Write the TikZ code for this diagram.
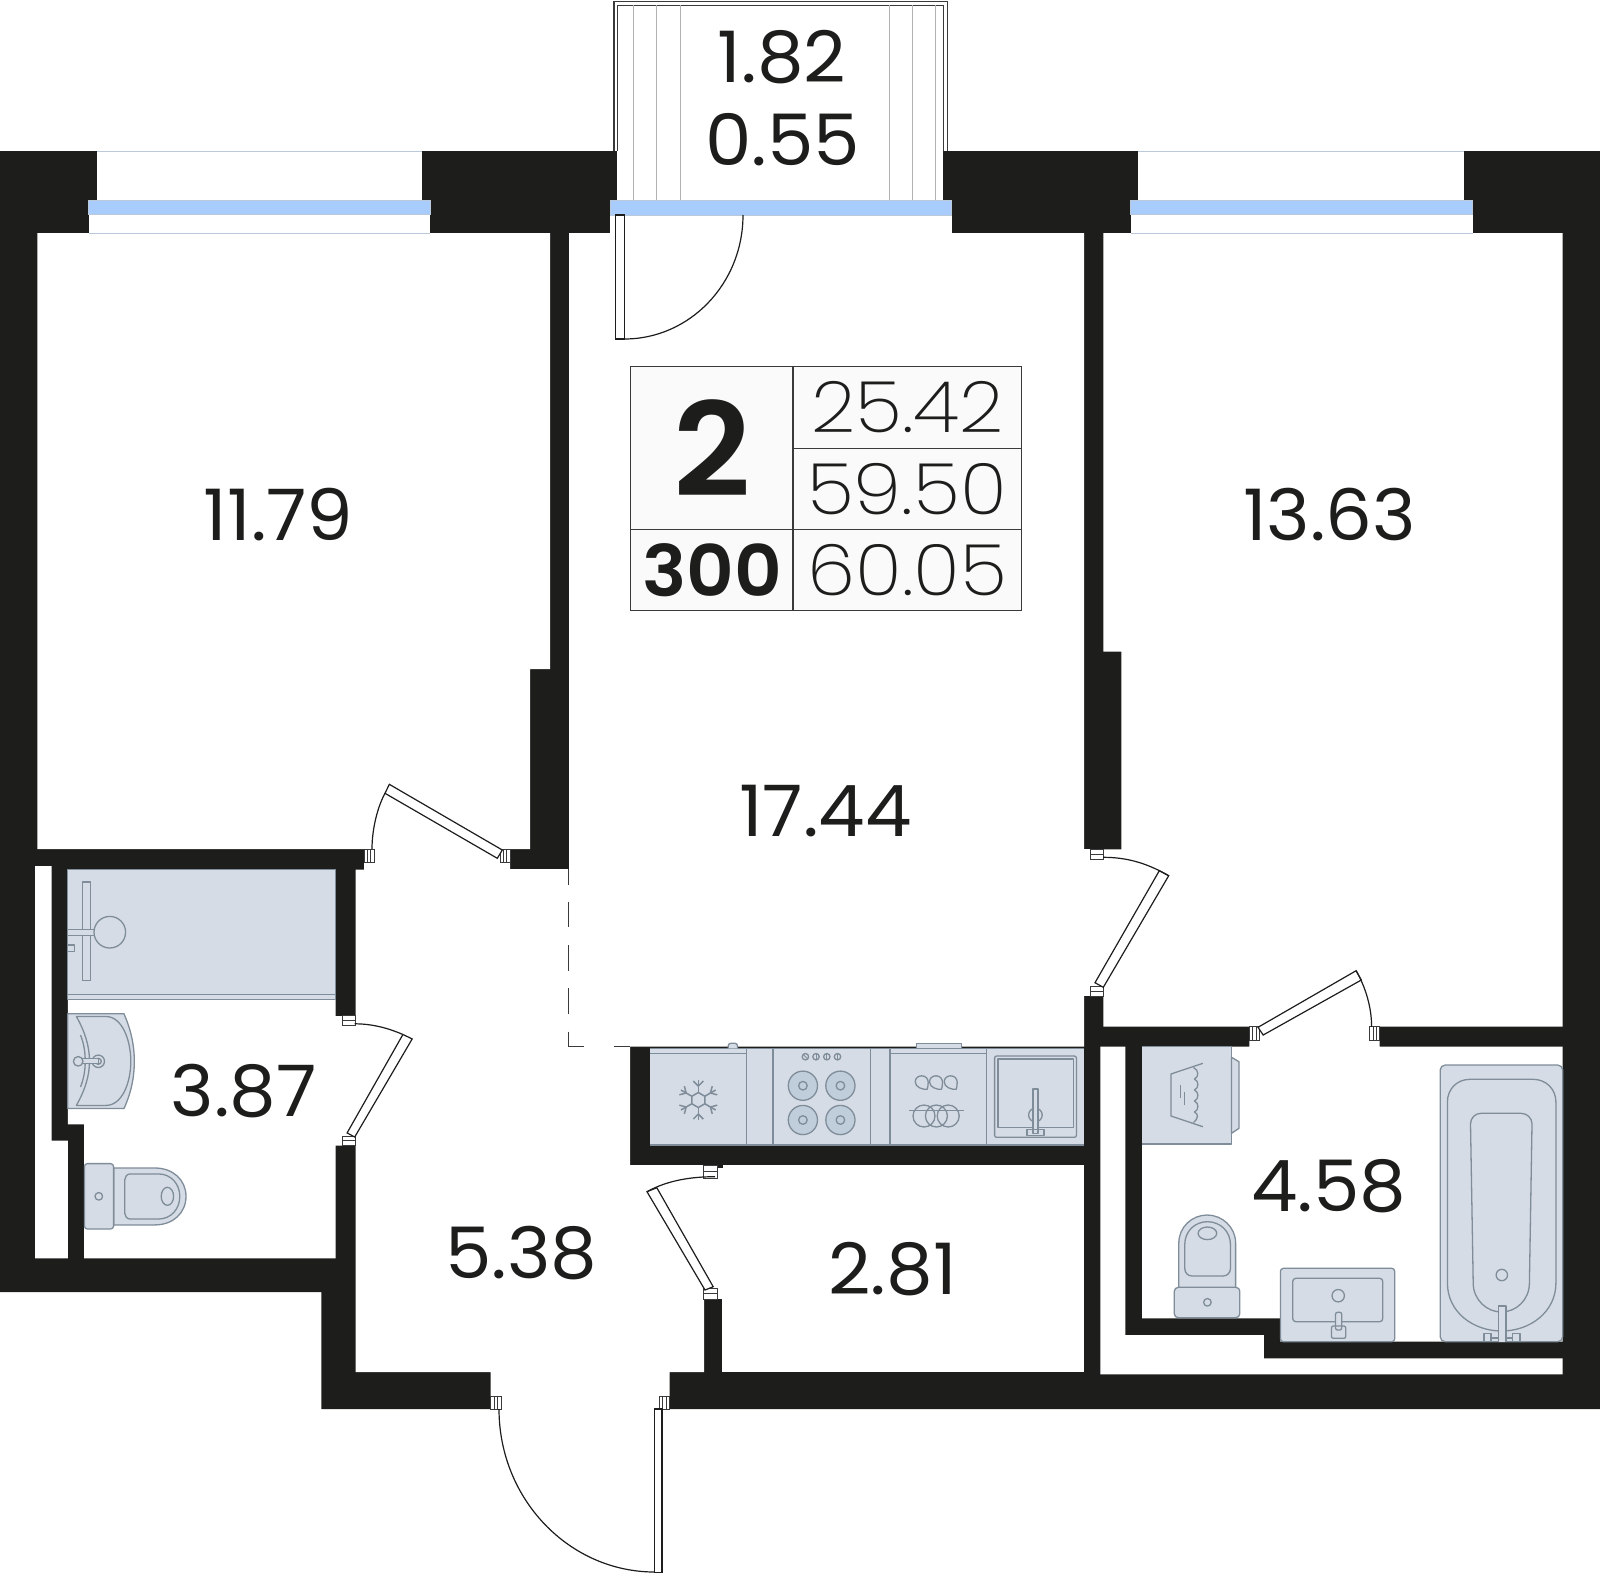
\documentclass[tikz,border=0pt]{standalone}
\usepackage{fontspec}
\setmainfont{Poppins}
\newfontfamily\pregular[FakeStretch=1.04]{Poppins}
\newfontfamily\plight[FakeStretch=1.09]{Poppins ExtraLight}
\newfontfamily\pbold[FakeStretch=1.04]{Poppins SemiBold}
\definecolor{wallc}{HTML}{1D1D1B}
\definecolor{fixf}{HTML}{D5DCE5}
\definecolor{fixs}{HTML}{7F8C99}
\definecolor{hobf}{HTML}{C0CEDC}
\definecolor{glassf}{HTML}{A8CDFD}
\definecolor{glasss}{HTML}{BAC8DA}
\definecolor{linec}{HTML}{3A3A3A}
\definecolor{tablef}{HTML}{FAFAFA}
\tikzset{
  wallfill/.style={fill=wallc,draw=none},
  roomfill/.style={fill=white,draw=none},
  fixture/.style={fill=fixf,draw=fixs,line width=1.3pt,line join=round},
  fixline/.style={draw=fixs,line width=1.3pt,line join=round},
  hatchline/.style={draw=black!30,line width=1pt},
  leaf/.style={fill=white,draw=wallc,line width=1.2pt},
  swing/.style={draw=wallc,line width=1.2pt},
  hingebox/.style={fill=white,draw=linec,line width=1pt},
  glass/.style={fill=glassf,draw=glasss,line width=.8pt},
  sill/.style={draw=glasss,line width=.8pt},
  tabline/.style={draw=linec,line width=1.2pt},
  areatxt/.style={text=wallc,font=\pregular\fontsize{71}{71}\selectfont,inner sep=0pt,anchor=center},
  lighttxt/.style={text=wallc,font=\plight\fontsize{71}{71}\selectfont,inner sep=0pt,anchor=center},
}
\newcommand{\hingeV}[4]{\draw[hingebox] (#1,#2) rectangle (#3,#4);
  \draw[linec,line width=.8pt] ({#1+(#3-#1)/3},#2) -- ({#1+(#3-#1)/3},#4);
  \draw[linec,line width=.8pt] ({#1+2*(#3-#1)/3},#2) -- ({#1+2*(#3-#1)/3},#4);}
\newcommand{\hingeH}[4]{\draw[hingebox] (#1,#2) rectangle (#3,#4);
  \draw[linec,line width=.8pt] (#1,{(#2+#4)/2}) -- (#3,{(#2+#4)/2});}
\begin{document}
\begin{tikzpicture}[x=1pt,y=-1pt]
\useasboundingbox (0,0) rectangle (1600,1574);
% walls silhouette
\fill[wallfill] (0,151) -- (1600,151) -- (1600,1409) -- (321.3,1409) -- (321.3,1292) -- (0,1292) -- cycle;
% rooms
\fill[roomfill] (37.4,233) -- (550,233) -- (550,669) -- (530,669) -- (530,849) -- (37.4,849) -- cycle;
\fill[roomfill] (569,233) -- (1084,233) -- (1084,1046.7) -- (630,1046.7) -- (630,1165) -- (704,1165) -- (704,1372) -- (669.7,1372) -- (669.7,1410.5) -- (490.7,1410.5) -- (490.7,1372) -- (355.7,1372) -- (355.7,1145.7) -- (335,1145.7) -- (335,1016) -- (355.7,1016) -- (355.7,869.5) -- (364,869.5) -- (364,849) -- (510,849) -- (510,869) -- (569,869) -- cycle;
\fill[roomfill] (67.8,869.5) -- (335.7,869.5) -- (335.7,1258.3) -- (84,1258.3) -- (84,1124.3) -- (67.8,1124.3) -- cycle;
\fill[roomfill] (35.1,866) -- (51.7,866) -- (51.7,1140.5) -- (67.8,1140.5) -- (67.8,1258.3) -- (35.1,1258.3) -- cycle;
\fill[roomfill] (1103.3,233) -- (1562.7,233) -- (1562.7,1026.7) -- (1103.3,1026.7) -- (1103.3,849.3) -- (1121.3,849.3) -- (1121.3,651.7) -- (1103.3,651.7) -- cycle;
\fill[roomfill] (1083,849.3) rectangle (1104,996);
\fill[roomfill] (722,1165) rectangle (1084,1372);
\fill[roomfill] (703.6,1168) rectangle (724,1299);
\fill[roomfill] (1142,1046.7) -- (1249.4,1046.7) -- (1249.4,1025.7) -- (1379.6,1025.7) -- (1379.6,1046.7) -- (1562.7,1046.7) -- (1562.7,1341.7) -- (1280.4,1341.7) -- (1280.4,1318.3) -- (1142,1318.3) -- cycle;
\fill[roomfill] (1100.3,1046.7) -- (1125.4,1046.7) -- (1125.4,1335) -- (1263.9,1335) -- (1263.9,1358.3) -- (1562.7,1358.3) -- (1562.7,1374.3) -- (1100.3,1374.3) -- cycle;
% windows
\fill[roomfill] (97,150) rectangle (422.3,201);
\fill[roomfill] (88.6,200) rectangle (430,234);
\draw[sill] (97,151) -- (422.3,151);
\draw[sill] (88.6,233) -- (430,233);
\draw[glass] (88.6,200) rectangle (430,214);
\fill[roomfill] (1137.8,150) rectangle (1464.3,201);
\fill[roomfill] (1130.6,200) rectangle (1472.5,234);
\draw[sill] (1137.8,151) -- (1464.3,151);
\draw[sill] (1130.6,233) -- (1472.5,233);
\draw[glass] (1130.6,200) rectangle (1472.5,214);
% balcony
\fill[roomfill] (617.3,150) rectangle (943.3,201);
\fill[roomfill] (610,200) rectangle (951.7,234);
\draw[linec,line width=1.2pt] (614,151) -- (614,1.5) -- (947.3,1.5) -- (947.3,151);
\draw[linec,line width=1pt] (617.7,151) -- (617.7,5) -- (943,5) -- (943,151);
\foreach \hx in {633.3,656.7,680,889,912.3,935.7} \draw[hatchline] (\hx,5) -- (\hx,200);
\draw[glass] (610,200) rectangle (951.7,215);
% balcony door
\draw[leaf] (615.7,215) rectangle (624.3,339);
\draw[swing] (743,215) .. controls (743,283.5) and (689.9,339) .. (624.3,339);
% dashed zone border
\draw[linec,line width=1pt] (568.7,869) -- (568.7,885);
\draw[linec,line width=1pt] (568.7,901.7) -- (568.7,927.3);
\draw[linec,line width=1pt] (568.7,945) -- (568.7,970.7);
\draw[linec,line width=1pt] (568.7,988.3) -- (568.7,1014);
\draw[linec,line width=1pt] (568.7,1031.7) -- (568.7,1046.7) -- (583.6,1046.7);
\draw[linec,line width=1pt] (614.3,1046.7) -- (630,1046.7);
% nub above closet door
\fill[wallfill] (703.6,1164) rectangle (723,1168);
% kitchen
\fill[fixf] (649.6,1048.3) rectangle (1084,1145);
\foreach \kx in {746.4,772.9,870.4,890,986.4} \draw[fixline] (\kx,1048.3) -- (\kx,1145);
\draw[fixline] (649.6,1048.3) -- (1084,1048.3);
\draw[fixline] (649.6,1145) -- (1084,1145);
\draw[fixline] (649.6,1053.3) -- (746.4,1053.3);
\draw[fixline] (890,1053.3) -- (986.4,1053.3);
\draw[fixture,rounded corners=2.5pt] (728.2,1048.3) -- (728.2,1043.3) -- (737.5,1043.3) -- (737.5,1048.3);
\draw[fixture] (916.8,1048.3) -- (916.8,1043.3) -- (961.4,1043.3) -- (961.4,1048.3);
% snowflake
\begin{scope}[shift={(698.3,1100)}]
\foreach \a in {0,60,120,180,240,300}{
  \begin{scope}[rotate=\a]
    \draw[fixline,line width=1.5pt] (0,-7.5) -- (0,-20);
    \draw[fixline,line width=1.5pt] (-5,-19) -- (0,-14) -- (5,-19);
    \draw[fixline,line width=1.5pt] (0,-7.5) -- (6.5,-3.75);
  \end{scope}}
\end{scope}
% hob
\foreach \kx/\ka in {805.4/45,816/0,826.8/0,837.5/0}{
  \draw[fixline] (\kx,1056.7) circle (3.2);
  \begin{scope}[shift={(\kx,1056.7)},rotate=\ka]
    \draw[fixs,line width=.8pt] (0,-2.8) -- (0,2.8);
  \end{scope}}
\foreach \kx in {802.9,840.4}\foreach \ky in {1085.7,1120}{
  \draw[fixs,fill=hobf,line width=1.3pt] (\kx,\ky) circle (14.6);
  \draw[fixline] (\kx,\ky) circle (4.3);}
% dishwasher
\foreach \dx in {921.7,936,950.7}{
  \begin{scope}[shift={(\dx,1082.3)}]
    \draw[fixline] (5.5,7) .. controls (1,7.5) and (-6.5,5) .. (-6.5,-0.5) .. controls (-6.5,-4.5) and (-3,-6.5) .. (0,-6.5) .. controls (4,-6.5) and (6.5,-3.5) .. (6.5,0) .. controls (6.5,3) and (6,5) .. (5.5,7) -- cycle;
  \end{scope}}
\foreach \dx in {924,936.4,948.2} \draw[fixline] (\dx,1116) circle (11);
\draw[fixline] (909,1110.7) -- (964,1110.7);
% sink
\draw[fixline,rounded corners=2pt] (994.6,1056) rectangle (1076.4,1137.3);
\draw[fixline] (997.9,1059) rectangle (1073.6,1127.3);
\draw[fixline] (1035.4,1115) circle (6.8);
\draw[fixture] (1032.9,1089) rectangle (1037.9,1133.3);
\draw[fixline] (1027.1,1129.3) rectangle (1043.9,1135.7);
% shower
\fill[fixf] (67.8,869.5) rectangle (335.7,999.3);
\draw[fixline] (67.8,869.5) -- (67.8,999.3) -- (335.7,999.3) -- (335.7,869.5) -- cycle;
\draw[fixline] (67.8,994.2) -- (335.7,994.2);
\draw[fixline] (82.6,881.9) rectangle (90.6,980.4);
\draw[fixture] (67.8,929.8) rectangle (96,935.6);
\draw[fixture] (109.8,932.2) circle (15.8);
\draw[fixline] (67.8,945) rectangle (74.4,951.5);
% wc1 washbasin
\draw[fixture] (67.8,1013.8) -- (124,1013.8) .. controls (131,1030) and (134.3,1045) .. (134.3,1061.3) .. controls (134.3,1078) and (131,1093) .. (124,1108.5) -- (67.8,1108.5) -- cycle;
\draw[fixline] (76.4,1016.5) -- (106,1016.5) .. controls (122,1016.5) and (130.8,1040) .. (130.8,1061.3) .. controls (130.8,1083) and (122,1105.4) .. (106,1105.4) -- (76.4,1105.4) .. controls (85,1090) and (89.5,1076) .. (89.5,1061.3) .. controls (89.5,1046) and (85,1032) .. (76.4,1016.5) -- cycle;
\draw[fixline] (80.5,1035) .. controls (84,1044) and (85.2,1052) .. (85.2,1061.3) .. controls (85.2,1070) and (84,1078) .. (80.5,1087);
\draw[fixture] (98.3,1061.3) circle (6.2);
\draw[fixline] (98.3,1061.3) circle (3);
\draw[fixture] (78.2,1058.8) rectangle (98.3,1063.8);
\draw[fixture] (78.2,1061.3) circle (4.8);
% wc1 toilet
\draw[fixture] (113.6,1168) -- (155,1168) .. controls (173,1168) and (186,1180) .. (186,1196.3) .. controls (186,1213) and (173,1224.9) .. (155,1224.9) -- (113.6,1224.9) -- cycle;
\draw[fixline] (130,1173.9) -- (158.4,1173.9) .. controls (171,1173.9) and (179.8,1184) .. (179.8,1196.3) .. controls (179.8,1209) and (171,1219) .. (158.4,1219) -- (130,1219) .. controls (127,1219) and (124.7,1216) .. (124.7,1213) -- (124.7,1180) .. controls (124.7,1177) and (127,1173.9) .. (130,1173.9) -- cycle;
\draw[fixline] (167.4,1196.3) ellipse (6.2 and 9);
\draw[fixture,rounded corners=3pt] (84.4,1163.6) rectangle (113.6,1229);
\draw[fixline] (98.8,1196.3) circle (3.8);
% washing machine
\draw[fixture] (1224.6,1046.7) rectangle (1231.5,1144);
\fill[fixf] (1142,1046.7) rectangle (1224.6,1144);
\draw[fixline] (1142,1144) -- (1224.6,1144);
\draw[fixline] (1142,1046.7) -- (1224.6,1046.7);
\draw[fixture] (1231.5,1057.3) -- (1239,1061.7) -- (1239,1128.3) -- (1231.5,1133.3) -- cycle;
\draw[fixline] (1202.9,1063.3) -- (1170.9,1074) -- (1170.9,1116) -- (1202.9,1126.7);
\draw[fixline] (1193.5,1067.5) .. controls (1199,1070) and (1199,1077) .. (1194.5,1079) .. controls (1199,1081) and (1199,1088) .. (1194.5,1090) .. controls (1199,1092) and (1199,1099) .. (1194.5,1101) .. controls (1199,1103) and (1199,1110) .. (1194.5,1112) .. controls (1199,1114) and (1198,1119) .. (1193.5,1122.5);
\draw[fixline] (1180.5,1085) -- (1180.5,1098.3);
\draw[fixline] (1184.7,1091.7) -- (1184.7,1105);
% bath
\draw[fixture,rounded corners=5pt] (1440.2,1065) rectangle (1562.7,1341.7);
\draw[fixline] (1447.4,1283) -- (1447.4,1102) .. controls (1447.4,1089) and (1457,1079.3) .. (1470,1079.3) -- (1533,1079.3) .. controls (1546,1079.3) and (1555.9,1089) .. (1555.9,1102) -- (1555.9,1283) .. controls (1555.9,1312) and (1530,1331) .. (1501.7,1331) .. controls (1473,1331) and (1447.4,1312) .. (1447.4,1283) -- cycle;
\draw[fixline] (1470.5,1124) -- (1473.2,1283) .. controls (1473.2,1300) and (1487,1312) .. (1501.3,1312) .. controls (1516,1312) and (1529.4,1300) .. (1529.4,1283) -- (1532,1124) .. controls (1532,1118) and (1527,1113.3) .. (1521,1113.3) -- (1481,1113.3) .. controls (1475,1113.3) and (1470.5,1118) .. (1470.5,1124) -- cycle;
\draw[fixline] (1501.8,1275) circle (5.7);
\draw[fixline] (1483.9,1341.7) -- (1483.9,1333.3) -- (1491,1333.3) -- (1491,1341.7);
\draw[fixline] (1512.8,1341.7) -- (1512.8,1333.3) -- (1520,1333.3) -- (1520,1341.7);
\draw[fixline] (1491,1338) -- (1512.8,1338);
\draw[fixture] (1498.4,1341.7) -- (1498.4,1306) -- (1506,1306) -- (1506,1341.7);
% bathroom 2 sink
\draw[fixture,rounded corners=3pt] (1280.4,1268.3) rectangle (1394.7,1341.7);
\draw[fixline,rounded corners=3pt] (1292.8,1278.3) rectangle (1382.7,1321.7);
\draw[fixline] (1338.2,1295.7) circle (6.2);
\draw[fixture,rounded corners=2pt] (1335.5,1312.3) rectangle (1341.7,1330);
\draw[fixline,rounded corners=2pt] (1331.4,1326) rectangle (1345.8,1338.3);
% bathroom 2 toilet
\draw[fixture] (1178.8,1290) -- (1178.8,1243) .. controls (1178.8,1227) and (1192,1215) .. (1207.2,1215) .. controls (1222,1215) and (1235.6,1227) .. (1235.6,1243) -- (1235.6,1290) -- cycle;
\draw[fixline] (1184.7,1245) .. controls (1184.7,1231) and (1195,1221.7) .. (1207.4,1221.7) .. controls (1220,1221.7) and (1230.5,1231) .. (1230.5,1245) -- (1230.5,1268) .. controls (1230.5,1273) and (1227,1276) .. (1223,1276) -- (1192,1276) .. controls (1188,1276) and (1184.7,1273) .. (1184.7,1268) -- cycle;
\draw[fixline] (1207.4,1233.3) ellipse (9.3 and 6.3);
\draw[fixture,rounded corners=4pt] (1174.3,1287.3) rectangle (1239.8,1317.7);
\draw[fixline] (1207.4,1302.3) circle (3.8);
% hinges
\hingeV{364}{849}{374}{862.7}
\hingeV{500}{849}{510}{862.7}
\hingeH{342.6}{1015.9}{355.7}{1025.8}
\hingeH{342.6}{1136}{355.7}{1145.7}
\hingeH{1090.7}{849.3}{1103.3}{859.3}
\hingeH{1090.7}{986}{1103.3}{996}
\hingeV{1249.4}{1026.7}{1259.7}{1040}
\hingeV{1369.6}{1026.7}{1379.6}{1040}
\hingeH{703.6}{1165}{717.5}{1178.3}
\hingeH{703.6}{1288.3}{717.5}{1299.3}
\hingeV{490.7}{1396}{501}{1409}
\hingeV{659.3}{1396}{669.7}{1409}
% door leaves and swings
\draw[leaf] (502.3,850) -- (389.3,784.3) -- (385,793.3) -- (497.3,858.3) -- cycle;
\draw[swing] (385,793.3) .. controls (378,806) and (372,828) .. (372,849);
\draw[leaf] (402.9,1034.5) -- (412.2,1038.9) -- (354.7,1137) -- (347.1,1132.9) -- cycle;
\draw[swing] (354.7,1023.8) .. controls (372,1023.8) and (388,1028) .. (402.9,1034.5);
\draw[leaf] (1159.3,870.7) -- (1168.7,875.7) -- (1103.3,987.3) -- (1095,982.7) -- cycle;
\draw[swing] (1103,857.3) .. controls (1125,857.3) and (1145,862) .. (1168.7,875.7);
\draw[leaf] (1258,1027.3) -- (1356.1,970.7) -- (1361.3,980) -- (1263.2,1035) -- cycle;
\draw[swing] (1356.1,970.7) .. controls (1366,988) and (1371.6,1008) .. (1371.6,1026.7);
\draw[leaf] (647,1191.7) -- (656.8,1187.7) -- (713.2,1286.7) -- (705,1290) -- cycle;
\draw[swing] (715,1176.7) .. controls (692,1176.7) and (668,1180) .. (647,1191.7);
\draw[leaf] (654.7,1409) rectangle (662,1572.3);
\draw[swing] (499,1409) .. controls (499,1499) and (569,1572) .. (654.7,1572);
% summary table
\draw[tabline,fill=tablef] (630.3,366.7) rectangle (1021.3,610.7);
\draw[tabline] (793,366.7) -- (793,610.7);
\draw[tabline] (793,448.3) -- (1021.3,448.3);
\draw[tabline] (630.3,529.7) -- (1021.3,529.7);
\node[text=wallc,font=\pbold\fontsize{130}{130}\selectfont,inner sep=0pt] (rooms) at (712,448.5) {2};
\node[text=wallc,font=\pbold\fontsize{71}{71}\selectfont,inner sep=0pt] (price) at (712,570.5) {300};
\node[lighttxt] (t1) at (907.5,407.5) {25.42};
\node[lighttxt] (t2) at (907,489) {59.50};
\node[lighttxt] (t3) at (907.5,570) {60.05};
% area labels
\node[areatxt] (bal1) at (782,57) {1.82};
\node[areatxt] (bal2) at (782.7,139.5) {0.55};
\node[areatxt] (a1) at (278.6,515) {11.79};
\node[areatxt] (a2) at (1329.6,515) {13.63};
\node[areatxt] (a3) at (825.5,811) {17.44};
\node[areatxt] (a4) at (243.6,1091) {3.87};
\node[areatxt] (a5) at (521.4,1253) {5.38};
\node[areatxt] (a6) at (892.6,1269) {2.81};
\node[areatxt] (a7) at (1328.6,1186) {4.58};
\end{tikzpicture}
\end{document}
